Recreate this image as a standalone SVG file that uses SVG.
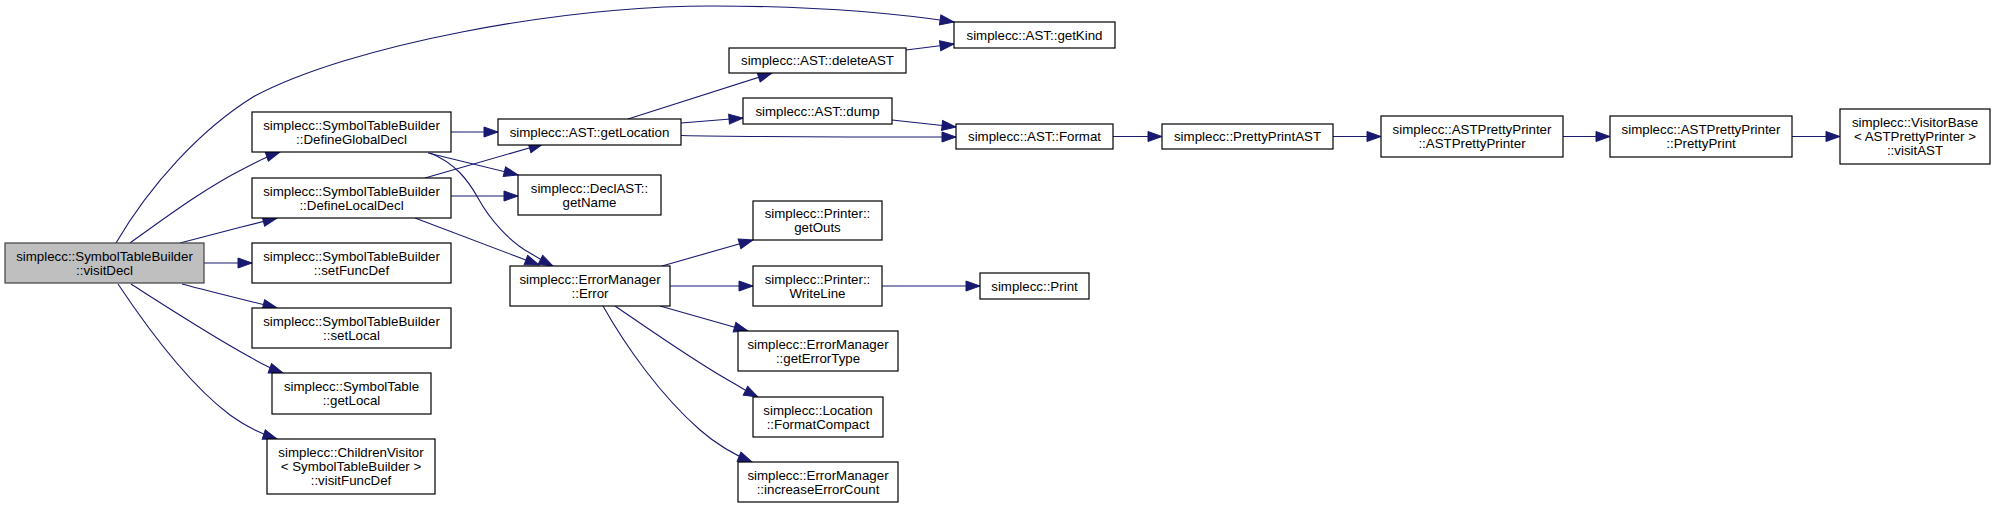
<svg xmlns="http://www.w3.org/2000/svg" width="1995" height="508" viewBox="0 0 1995 508">
<style>
.node rect{fill:#ffffff;stroke:#000000;stroke-width:1.2}
.root rect{fill:#bfbfbf;stroke:#404040}
text{font-family:"Liberation Sans",Arial,Helvetica,sans-serif;font-size:13.3px;text-anchor:middle;fill:#000000}
.edge{fill:none;stroke:#191970;stroke-width:1.1;marker-end:url(#arrow)}
</style>
<defs>
<marker id="arrow" markerUnits="userSpaceOnUse" markerWidth="15" markerHeight="11" refX="14" refY="5" orient="auto" overflow="visible">
<path d="M0,0 L14,5 L0,10 z" fill="#191970" stroke="#191970" stroke-width="1"/>
</marker>
</defs>
<rect x="0" y="0" width="1995" height="508" fill="#ffffff"/>
<g id="connectors">
<path class="edge" d="M116,243 C150,185 200,130 253,97 C350,45 560,6 713,6 C820,6 900,14 954,22"/>
<path class="edge" d="M130,243 C165,218 205,188 245,168 C258,161 268,156 280,152"/>
<path class="edge" d="M180,243 C210,235 245,226 277,218"/>
<path class="edge" d="M204,263 L252,263"/>
<path class="edge" d="M182,284 C212,292 245,300 277,308"/>
<path class="edge" d="M131,284 C170,309 210,335 250,357 C262,364 272,369 283,373"/>
<path class="edge" d="M118,284 C150,332 190,385 230,415 C245,426 262,434 277,439"/>
<path class="edge" d="M451,132 L498,132"/>
<path class="edge" d="M428,153 L518,175"/>
<path class="edge" d="M430,153 C455,163 468,180 478,198 C490,220 510,242 530,253 C538,258 545,262 553,266"/>
<path class="edge" d="M425,178 L543,144"/>
<path class="edge" d="M451,196 L518,196"/>
<path class="edge" d="M415,218 L539,265"/>
<path class="edge" d="M628,119 L772,73"/>
<path class="edge" d="M681,123 L743,118"/>
<path class="edge" d="M681,135.5 C750,137 880,137 956,137"/>
<path class="edge" d="M906,50 L954,44"/>
<path class="edge" d="M892,120 L956,127"/>
<path class="edge" d="M662,266 L753,240"/>
<path class="edge" d="M670,286 L753,286"/>
<path class="edge" d="M660,306 L748,331"/>
<path class="edge" d="M615,306 C650,330 700,365 735,384 C743,389 750,393 758,397"/>
<path class="edge" d="M603,306 C625,345 660,395 700,430 C715,443 735,455 752,462"/>
<path class="edge" d="M882,286 L980,286"/>
<path class="edge" d="M1113,136.5 L1162,136.5"/>
<path class="edge" d="M1333,136.5 L1381,136.5"/>
<path class="edge" d="M1563,136.5 L1610,136.5"/>
<path class="edge" d="M1792,136.5 L1840,136.5"/>
</g>
<g id="node-visitDecl" class="node root"><rect x="5" y="243" width="199" height="40"/><text x="104.5" y="260.7">simplecc::SymbolTableBuilder</text><text x="104.5" y="274.7">::visitDecl</text></g>
<g id="node-DefineGlobalDecl" class="node"><rect x="252" y="112" width="199" height="40"/><text x="351.5" y="129.7">simplecc::SymbolTableBuilder</text><text x="351.5" y="143.7">::DefineGlobalDecl</text></g>
<g id="node-DefineLocalDecl" class="node"><rect x="252" y="178" width="199" height="40"/><text x="351.5" y="195.7">simplecc::SymbolTableBuilder</text><text x="351.5" y="209.7">::DefineLocalDecl</text></g>
<g id="node-setFuncDef" class="node"><rect x="252" y="243" width="199" height="40"/><text x="351.5" y="260.7">simplecc::SymbolTableBuilder</text><text x="351.5" y="274.7">::setFuncDef</text></g>
<g id="node-setLocal" class="node"><rect x="252" y="308" width="199" height="40"/><text x="351.5" y="325.7">simplecc::SymbolTableBuilder</text><text x="351.5" y="339.7">::setLocal</text></g>
<g id="node-SymbolTable-getLocal" class="node"><rect x="272" y="373" width="159" height="41"/><text x="351.5" y="391.2">simplecc::SymbolTable</text><text x="351.5" y="405.2">::getLocal</text></g>
<g id="node-ChildrenVisitor-visitFuncDef" class="node"><rect x="267" y="439" width="168" height="55"/><text x="351" y="457.2">simplecc::ChildrenVisitor</text><text x="351" y="471.2">&lt; SymbolTableBuilder &gt;</text><text x="351" y="485.2">::visitFuncDef</text></g>
<g id="node-getLocation" class="node"><rect x="498" y="119" width="183" height="26"/><text x="589.5" y="136.7">simplecc::AST::getLocation</text></g>
<g id="node-DeclAST-getName" class="node"><rect x="518" y="175" width="143" height="40"/><text x="589.5" y="192.7">simplecc::DeclAST::</text><text x="589.5" y="206.7">getName</text></g>
<g id="node-ErrorManager-Error" class="node"><rect x="510" y="266" width="160" height="40"/><text x="590" y="283.7">simplecc::ErrorManager</text><text x="590" y="297.7">::Error</text></g>
<g id="node-deleteAST" class="node"><rect x="729" y="48" width="177" height="25"/><text x="817.5" y="65.2">simplecc::AST::deleteAST</text></g>
<g id="node-dump" class="node"><rect x="743" y="98" width="149" height="26"/><text x="817.5" y="115.7">simplecc::AST::dump</text></g>
<g id="node-Printer-getOuts" class="node"><rect x="753" y="201" width="129" height="39"/><text x="817.5" y="218.2">simplecc::Printer::</text><text x="817.5" y="232.2">getOuts</text></g>
<g id="node-Printer-WriteLine" class="node"><rect x="753" y="266" width="129" height="40"/><text x="817.5" y="283.7">simplecc::Printer::</text><text x="817.5" y="297.7">WriteLine</text></g>
<g id="node-getErrorType" class="node"><rect x="738" y="331" width="160" height="40"/><text x="818" y="348.7">simplecc::ErrorManager</text><text x="818" y="362.7">::getErrorType</text></g>
<g id="node-FormatCompact" class="node"><rect x="753" y="397" width="130" height="40"/><text x="818" y="414.7">simplecc::Location</text><text x="818" y="428.7">::FormatCompact</text></g>
<g id="node-increaseErrorCount" class="node"><rect x="738" y="462" width="160" height="40"/><text x="818" y="479.7">simplecc::ErrorManager</text><text x="818" y="493.7">::increaseErrorCount</text></g>
<g id="node-getKind" class="node"><rect x="954" y="22" width="161" height="26"/><text x="1034.5" y="39.7">simplecc::AST::getKind</text></g>
<g id="node-Format" class="node"><rect x="956" y="124" width="157" height="25"/><text x="1034.5" y="141.2">simplecc::AST::Format</text></g>
<g id="node-Print" class="node"><rect x="980" y="273" width="109" height="26"/><text x="1034.5" y="290.7">simplecc::Print</text></g>
<g id="node-PrettyPrintAST" class="node"><rect x="1162" y="124" width="171" height="25"/><text x="1247.5" y="141.2">simplecc::PrettyPrintAST</text></g>
<g id="node-ASTPrettyPrinter-ctor" class="node"><rect x="1381" y="116" width="182" height="41"/><text x="1472" y="134.2">simplecc::ASTPrettyPrinter</text><text x="1472" y="148.2">::ASTPrettyPrinter</text></g>
<g id="node-ASTPrettyPrinter-PrettyPrint" class="node"><rect x="1610" y="116" width="182" height="41"/><text x="1701" y="134.2">simplecc::ASTPrettyPrinter</text><text x="1701" y="148.2">::PrettyPrint</text></g>
<g id="node-VisitorBase-visitAST" class="node"><rect x="1840" y="109" width="150" height="55"/><text x="1915" y="127.2">simplecc::VisitorBase</text><text x="1915" y="141.2">&lt; ASTPrettyPrinter &gt;</text><text x="1915" y="155.2">::visitAST</text></g>
</svg>
